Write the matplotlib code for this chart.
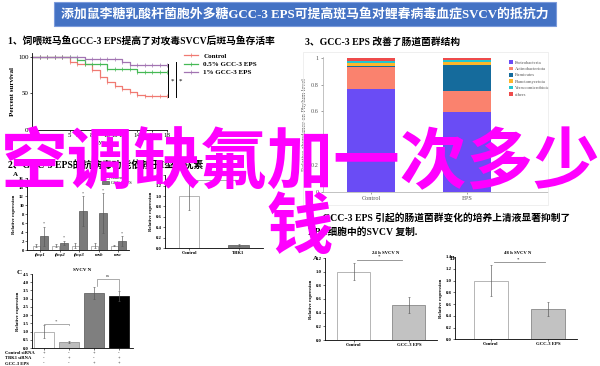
import numpy as np
import matplotlib
matplotlib.use('Agg')
import matplotlib.pyplot as plt
from matplotlib.patches import Rectangle
from matplotlib.lines import Line2D

plt.rcParams['font.family'] = ['Liberation Serif', 'Noto Sans CJK SC']
plt.rcParams['axes.unicode_minus'] = False

W, H = 600, 366

# 1. survival after SVCV challenge
ctrl_days = [0, 5, 6, 8, 9, 10, 11, 12, 13, 14, 15, 18]
ctrl_surv = [100, 92.5, 90.5, 82, 72, 65.5, 60.5, 56, 52, 48.5, 46, 46]
eps05_days = [0, 6, 7, 10, 14, 18]
eps05_surv = [100, 95.5, 91, 83.5, 79, 79]
eps1_days = [0, 7, 12, 13, 18]
eps1_surv = [100, 97.8, 93, 88.4, 88.4]
surv_labels = ['Control', '0.5% GCC-3 EPS', '1% GCC-3 EPS']
surv_xticks = [5, 6, 8, 10, 11, 12, 14, 16, 18]

# 3. phylum level composition
phyla = ['Proteobacteria', 'Actinobacteriota', 'Firmicutes',
         'Planctomycetota', 'Verrucomicrobiota', 'others']
phy_groups = ['Control', 'EPS']
phy_ctrl = [0.765, 0.165, 0.005, 0.025, 0.015, 0.025]
phy_eps = [0.595, 0.16, 0.19, 0.025, 0.01, 0.02]

# 2A interferon genes
genes = ['ifnφ1', 'ifnφ2', 'ifnφ3', 'mxb', 'mxc']
genes_ctrl = [1.0, 1.0, 1.0, 1.0, 1.0]
genes_ctrl_err = [0.4, 0.3, 0.5, 0.5, 0.1]
genes_eps = [3.1, 1.6, 8.7, 8.2, 2.0]
genes_eps_err = [2.1, 0.5, 3.3, 4.5, 1.1]

# 2B TBK1
tbk_labels = ['Control', 'TBK1']
tbk_vals = [1.0, 0.05]
tbk_err = [0.27, 0.02]

# 2C SVCV N with siRNA
c_vals = [1.0, 0.37, 3.33, 3.18]
c_err = [0.38, 0.04, 0.35, 0.3]
c_rows = ['Control siRNA', 'TBK1 siRNA', 'GCC-3 EPS']
c_signs = [['+', '-', '+', '-'], ['-', '+', '-', '+'], ['-', '-', '+', '+']]

# 4A / 4B SVCV N in EPC cells
sup_labels = ['Control', 'GCC-3 EPS']
sup24 = [1.0, 0.51]
sup24_err = [0.12, 0.12]
sup48 = [1.0, 0.51]
sup48_err = [0.27, 0.12]

fig = plt.figure(figsize=(6, 3.66), dpi=100)
fig.patch.set_facecolor('white')


def px_axes(x0, y0, x1, y1):
    return fig.add_axes([x0 / W, 1 - y1 / H, (x1 - x0) / W, (y1 - y0) / H])


def ftext(x, y, s, **kw):
    return fig.text(x / W, 1 - y / H, s, **kw)


# banner
fig.patches.append(Rectangle((54 / W, 1 - 26 / H), 502 / W, 24 / H, transform=fig.transFigure,
                             facecolor='#4472C4', edgecolor='#7C9BDB', lw=0.8))
ftext(305, 14.5, '添加鼠李糖乳酸杆菌胞外多糖GCC-3 EPS可提高斑马鱼对鲤春病毒血症SVCV的抵抗力',
      color='white', fontsize=9.3, fontweight='bold', ha='center', va='center')

# section titles
ftext(8, 42, '1、饲喂斑马鱼GCC-3 EPS提高了对攻毒SVCV后斑马鱼存活率', fontsize=7,
      fontweight='bold', va='center')
ftext(305, 42, '3、GCC-3 EPS 改善了肠道菌群结构', fontsize=7, fontweight='bold', va='center')
ftext(8, 165, '2、GCC-3 EPS的抗病毒功能依赖于I型干扰素', fontsize=7, fontweight='bold', va='center')
ftext(308, 218, '4、GCC-3 EPS 引起的肠道菌群变化的培养上清液显著抑制了', fontsize=7,
      fontweight='bold', va='center')
ftext(308, 232, 'EPC细胞中的SVCV 复制.', fontsize=7, fontweight='bold', va='center')

# ---- 1. survival curve
ax1 = px_axes(32, 53.3, 167, 130)
surv_colors = ['#F07A72', '#45B955', '#A274B2']
series = [(ctrl_days, ctrl_surv), (eps05_days, eps05_surv), (eps1_days, eps1_surv)]
for (d, s), c, lab in zip(series, surv_colors, surv_labels):
    ax1.step(d, s, where='post', color=c, lw=0.9, label=lab)
    days = np.arange(1, 19)
    idx = np.searchsorted(d, days, side='right') - 1
    ax1.plot(days, np.array(s)[idx], ls='none', marker='|', ms=2.5, mew=0.5, color=c)
ax1.set_xlim(0, 18)
ax1.set_ylim(0, 105)
ax1.set_yticks([0, 50, 100])
ax1.set_xticks(surv_xticks)
ax1.tick_params(labelsize=5, length=1.5, width=0.5, pad=1)
for sp in ['top', 'right']:
    ax1.spines[sp].set_visible(False)
for sp in ['left', 'bottom']:
    ax1.spines[sp].set_linewidth(0.6)
ax1.set_ylabel('Percent survival', fontsize=5, fontweight='bold', labelpad=2)
ax1.set_xlabel('days', fontsize=5, labelpad=1)
# significance marks
ax1.plot([1.01, 1.01], [0.43, 0.86], transform=ax1.transAxes, clip_on=False, color='k', lw=0.7)
ax1.plot([1.07, 1.07], [0.43, 0.89], transform=ax1.transAxes, clip_on=False, color='k', lw=0.7)
ax1.text(1.04, 0.64, '*', transform=ax1.transAxes, fontsize=5, ha='center', va='center')
ax1.text(1.10, 0.64, '*', transform=ax1.transAxes, fontsize=5, ha='center', va='center')
leg_handles = [Line2D([0], [0], color=c, lw=0.9, marker='|', ms=2.5, mew=0.5) for c in surv_colors]
fig.legend(leg_handles, surv_labels, loc='upper left', bbox_to_anchor=(181 / W, 1 - 50 / H),
           frameon=False, prop={'size': 5, 'weight': 'bold'}, handlelength=2.0,
           handletextpad=0.8, labelspacing=0.35, borderaxespad=0)

# ---- 3. stacked phylum bars
fig.patches.append(Rectangle((303 / W, 1 - 205 / H), 245 / W, 153 / H, transform=fig.transFigure,
                             facecolor='none', edgecolor='#ECECEC', lw=0.6))
ax3 = px_axes(323, 57, 548, 192)
phy_colors = ['#6A4CF5', '#FA826E', '#156B9C', '#FDB62A', '#22C6CF', '#EE4B4B']
bottom = np.zeros(2)
for i, name in enumerate(phyla):
    vals = np.array([phy_ctrl[i], phy_eps[i]])
    ax3.bar([0, 1], vals, width=0.5, bottom=bottom, color=phy_colors[i], label=name)
    bottom += vals
ax3.set_xlim(-0.5, 1.84)
ax3.set_ylim(0, 1.005)
ax3.set_yticks([0, 0.2, 0.4, 0.6, 0.8, 1])
ax3.set_yticklabels(['0', '0.2', '0.4', '0.6', '0.8', '1'])
ax3.set_xticks([0, 1])
ax3.set_xticklabels(phy_groups)
ax3.tick_params(labelsize=4.5, length=1.5, width=0.4, pad=1.5, colors='#555555')
for sp in ['top', 'right']:
    ax3.spines[sp].set_visible(False)
for sp in ['left', 'bottom']:
    ax3.spines[sp].set_color('#AAAAAA')
    ax3.spines[sp].set_linewidth(0.5)
ax3.set_ylabel('Relative abundance on Phylum level', fontsize=4.5, color='#555555', labelpad=3)
ax3.legend(loc='upper left', bbox_to_anchor=(0.82, 0.99), frameon=False,
           prop={'size': 3.3}, handlelength=0.8, handleheight=0.8, handletextpad=0.5,
           labelspacing=0.45, borderaxespad=0, labelcolor='#555555')


def style_small(ax, ylabel):
    for sp in ['top', 'right']:
        ax.spines[sp].set_visible(False)
    for sp in ['left', 'bottom']:
        ax.spines[sp].set_linewidth(0.6)
    ax.tick_params(labelsize=3.4, length=1.3, width=0.4, pad=1)
    for lab in ax.get_yticklabels() + ax.get_xticklabels():
        lab.set_fontweight('bold')
    ax.set_ylabel(ylabel, fontsize=3.4, fontweight='bold', labelpad=2)


def bracket(ax, x0, x1, y, drop, color='#888888'):
    ax.plot([x0, x0, x1, x1], [y - drop, y, y, y - drop], color=color, lw=0.5, clip_on=False)


ekw = dict(elinewidth=0.45, capsize=0.8, capthick=0.4, ecolor='#555555')

# ---- 2A
ax2a = px_axes(27, 178.3, 129, 250)
x = np.arange(len(genes))
ax2a.bar(x - 0.2, genes_ctrl, 0.36, yerr=genes_ctrl_err, color='white', edgecolor='#999999',
         lw=0.5, error_kw=ekw, label='Control')
ax2a.bar(x + 0.2, genes_eps, 0.4, yerr=genes_eps_err, color='#7A7A7A', edgecolor='#555555',
         lw=0.5, error_kw=ekw, label='GCC-3 EPS')
for xi, v, e in zip(x, genes_eps, genes_eps_err):
    ax2a.text(xi + 0.2, v + e + 0.2, '*', fontsize=3, ha='center', va='bottom', color='#444444')
ax2a.set_xlim(-0.68, 4.55)
ax2a.set_ylim(0, 16)
ax2a.set_yticks(np.arange(0, 17, 2))
ax2a.set_xticks(x)
ax2a.set_xticklabels(genes, fontstyle='italic')
style_small(ax2a, 'Relative expression')
ax2a.legend(loc='upper left', bbox_to_anchor=(0.72, 1.06), frameon=False, prop={'size': 3.2},
            handlelength=1.5, handleheight=0.7, handletextpad=0.4, labelspacing=0.15,
            borderaxespad=0)
ftext(13, 174, 'A', fontsize=5, fontweight='bold', va='center')

# ---- 2B
ax2b = px_axes(165, 175.2, 263, 248)
ax2b.bar([0, 1], tbk_vals, 0.41, yerr=tbk_err, color=['white', '#7A7A7A'],
         edgecolor=['#999999', '#555555'], lw=0.5, error_kw=ekw)
bracket(ax2b, 0, 1, 1.31, 0.0)
ax2b.set_xlim(-0.485, 1.495)
ax2b.set_ylim(0, 1.4)
ax2b.set_yticks(np.arange(0, 1.41, 0.2))
ax2b.set_yticklabels(['%.1f' % t for t in np.arange(0, 1.41, 0.2)])
ax2b.set_xticks([0, 1])
ax2b.set_xticklabels(tbk_labels)
style_small(ax2b, 'Relative expression')

# ---- 2C
ax2c = px_axes(32, 274, 133, 348)
xc = np.arange(len(c_vals))
ax2c.bar(xc, c_vals, 0.8, yerr=c_err, color=['white', '#BDBDBD', '#7F7F7F', '#000000'],
         edgecolor=['#999999', '#888888', '#555555', '#000000'], lw=0.5, error_kw=ekw)
bracket(ax2c, 0, 1, 1.46, 0.05)
ax2c.text(0.5, 1.5, '*', fontsize=3.5, ha='center', va='bottom', color='#444444')
ax2c.plot([2.1, 2.1, 3.0, 3.0], [3.75, 4.2, 4.2, 3.55], color='#888888', lw=0.5)
ax2c.text(2.55, 4.27, 'ns', fontsize=3.4, ha='center', va='bottom', color='#444444')
ax2c.set_xlim(-0.48, 3.56)
ax2c.set_ylim(0, 4.5)
ax2c.set_yticks(np.arange(0, 4.51, 0.5))
ax2c.set_yticklabels(['%.1f' % t for t in np.arange(0, 4.51, 0.5)])
ax2c.set_xticks(xc)
ax2c.set_xticklabels([])
style_small(ax2c, 'Relative expression')
ax2c.set_title('SVCV N', fontsize=3.6, fontweight='bold', pad=2)
ftext(17, 272, 'C', fontsize=5, fontweight='bold', va='center')
for r, (name, signs) in enumerate(zip(c_rows, c_signs)):
    yy = 353 + r * 5.3
    ftext(5, yy, name, fontsize=3.3, fontweight='bold', va='center')
    for xi, sgn in zip(xc, signs):
        xp = ax2c.transData.transform((xi, 0))[0] / fig.dpi / fig.get_figwidth() * W
        ftext(xp, yy, sgn, fontsize=3.3, ha='center', va='center')

# ---- 4A
ax4a = px_axes(325, 258, 437, 340)
ax4a.bar([0, 1], sup24, 0.6, yerr=sup24_err, color=['white', '#C2C2C2'],
         edgecolor=['#999999', '#777777'], lw=0.5, error_kw=ekw)
ax4a.plot([0.05, 0.87], [1.17, 1.17], color='#888888', lw=0.6, clip_on=False)
ax4a.text(0.46, 1.19, '*', fontsize=3.5, ha='center', va='bottom')
ax4a.set_xlim(-0.527, 1.51)
ax4a.set_ylim(0, 1.2)
ax4a.set_yticks(np.arange(0, 1.21, 0.2))
ax4a.set_yticklabels(['%.1f' % t for t in np.arange(0, 1.21, 0.2)])
ax4a.set_xticks([0, 1])
ax4a.set_xticklabels(sup_labels)
style_small(ax4a, 'Relative expression')
ftext(386, 253, '24 h SVCV N', fontsize=3.4, fontweight='bold', ha='center', va='center')
ftext(313, 259, 'A', fontsize=5, fontweight='bold', va='center')

# ---- 4B
ax4b = px_axes(455, 257, 577, 339.3)
ax4b.bar([0, 1], sup48, 0.6, yerr=sup48_err, color=['white', '#C2C2C2'],
         edgecolor=['#999999', '#777777'], lw=0.5, error_kw=ekw)
ax4b.plot([0.05, 0.95], [1.31, 1.31], color='#888888', lw=0.6, clip_on=False)
ax4b.text(0.47, 1.33, '*', fontsize=3.5, ha='center', va='bottom')
ax4b.set_xlim(-0.63, 1.51)
ax4b.set_ylim(0, 1.4)
ax4b.set_yticks(np.arange(0, 1.41, 0.2))
ax4b.set_yticklabels(['%.1f' % t for t in np.arange(0, 1.41, 0.2)])
ax4b.set_xticks([0, 1])
ax4b.set_xticklabels(sup_labels)
style_small(ax4b, 'Relative expression')
ftext(518, 253, '48 h SVCV N', fontsize=3.4, fontweight='bold', ha='center', va='center')
ftext(450, 258, 'B', fontsize=5, fontweight='bold', va='center')

# ---- overlay title
ftext(301, 164, '空调缺氟加一次多少', family='Noto Sans CJK SC', fontsize=48,
      fontweight='bold', color='#FF00FF', ha='center', va='center', zorder=10)
ftext(300, 229, '钱', family='Noto Sans CJK SC', fontsize=48,
      fontweight='bold', color='#FF00FF', ha='center', va='center', zorder=10)

fig.savefig('out.png', dpi=100)
